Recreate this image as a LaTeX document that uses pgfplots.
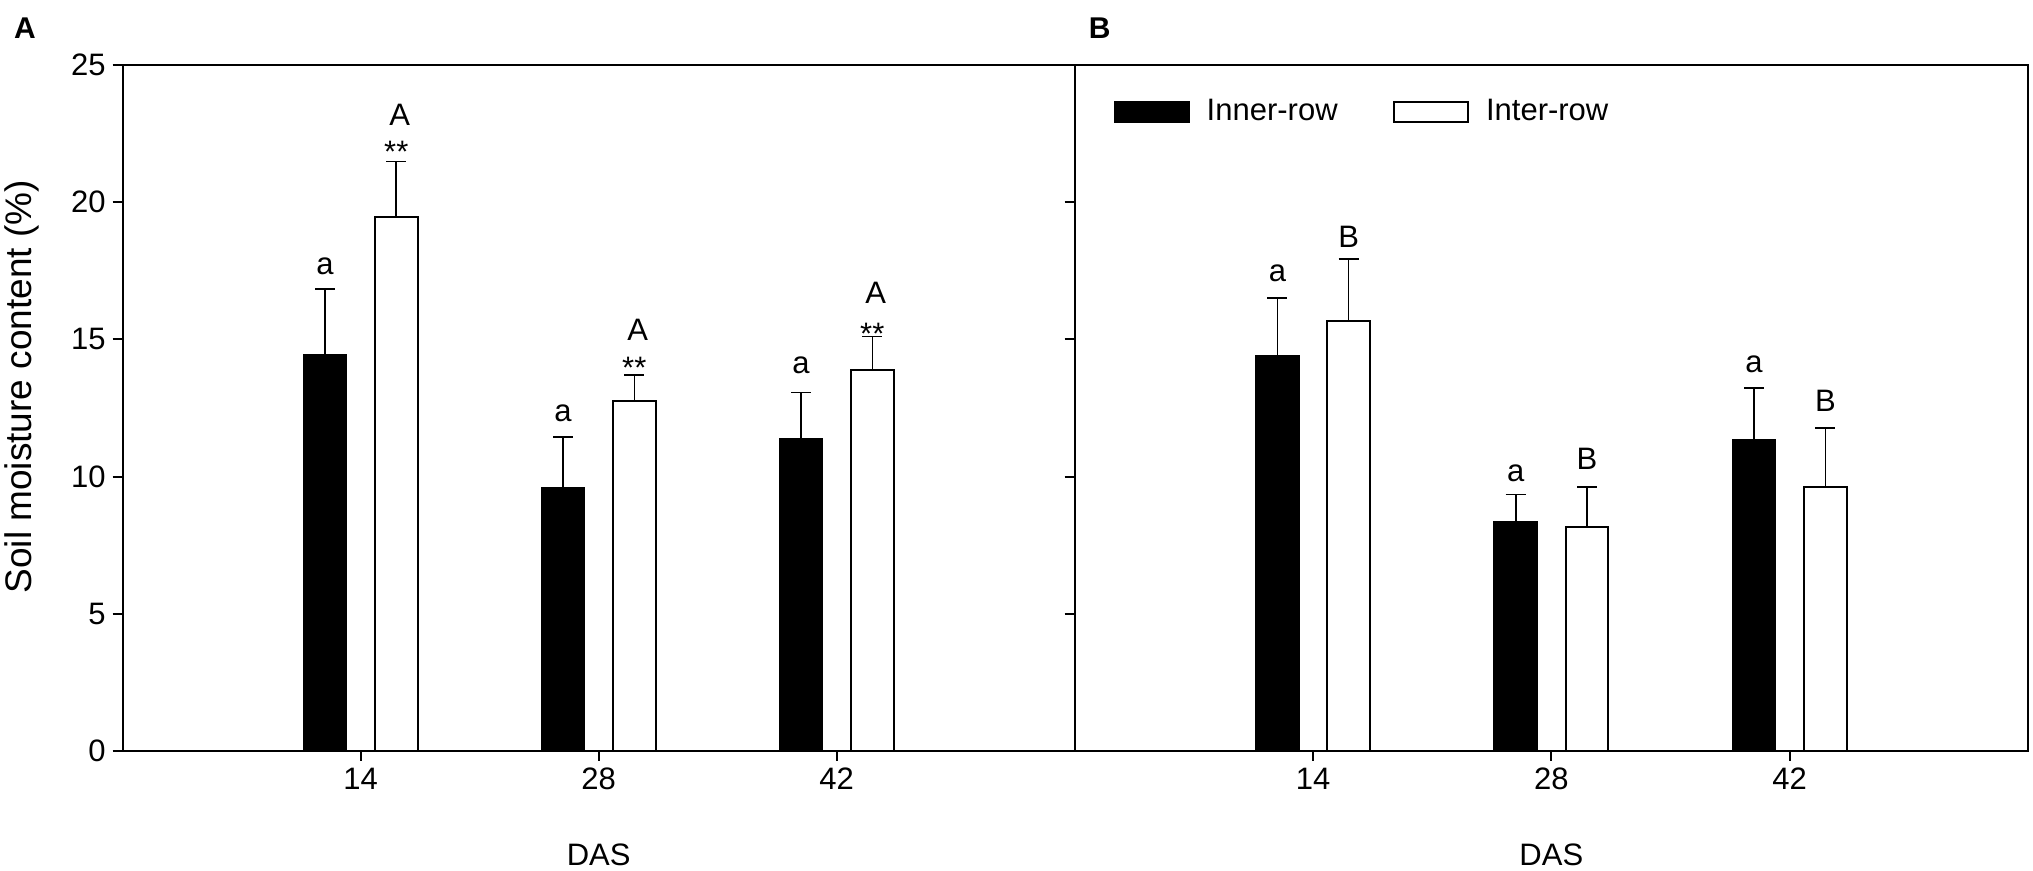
\documentclass[border=0pt]{standalone}
\usepackage{pgfplots}
\usepackage{pgfplotstable}
\pgfplotsset{compat=1.18}
\usepackage{fontspec}
\setmainfont{Liberation Sans}

\pgfplotstableread{
x y e
14 14.42 2.41
28 9.57 1.87
42 11.37 1.69
}\Ain
\pgfplotstableread{
x y e
14 19.46 2.02
28 12.77 0.94
42 13.90 1.20
}\Aout
\pgfplotstableread{
x y e
14 14.41 2.09
28 8.36 0.99
42 11.33 1.89
}\Bin
\pgfplotstableread{
x y e
14 15.67 2.25
28 8.17 1.46
42 9.63 2.15
}\Bout

\tikzset{lett/.style={font=\fontsize{15.5}{18}\selectfont, anchor=center, inner sep=0pt}}

\pgfplotsset{
  panel/.style={
    scale only axis, height=343pt,
    xmin=0, xmax=56, ymin=0, ymax=25,
    xtick={14,28,42}, ytick={0,5,...,25},
    tick align=outside, xtick pos=bottom, ytick pos=left,
    major tick length=5pt,
    axis line style={line width=1pt},
    every tick/.style={black, line width=1pt},
    /pgf/number format/assume math mode=true,
    tick label style={font=\fontsize{15.5}{18}\selectfont},
    ybar, bar width=2.5,
    clip=false,
    xlabel={DAS},
    xlabel style={font=\fontsize{15.5}{18}\selectfont, at={(axis description cs:0.5,-0.1516)}, anchor=center},
  },
  inbar/.style={fill=black, draw=black, line width=1pt, bar shift=-2.094,
    error bars/.cd, y dir=plus, y explicit,
    error bar style={line width=0.8pt, black},
    error mark options={rotate=90, mark size=5pt, line width=0.8pt, black}},
  outbar/.style={fill=white, draw=black, line width=1pt, bar shift=2.094,
    error bars/.cd, y dir=plus, y explicit,
    error bar style={line width=0.8pt, black},
    error mark options={rotate=90, mark size=5pt, line width=0.8pt, black}},
}

\begin{document}
\begin{tikzpicture}
\useasboundingbox (0,0) rectangle (1016.5pt,435.5pt);

\begin{axis}[panel, width=476pt, at={(61.35pt,60pt)}, anchor=south west,
  ylabel={Soil moisture content (\%)},
  ylabel style={font=\fontsize{18.5}{22}\selectfont, at={(axis description cs:-0.1058,0.531)}, anchor=center},
]
\addplot[inbar] table[x=x, y=y, y error=e] {\Ain};
\addplot[outbar] table[x=x, y=y, y error=e] {\Aout};
\node[lett] at (axis cs:11.906,17.65) {a};
\node[lett] at (axis cs:25.906,12.32) {a};
\node[lett] at (axis cs:39.906,14.04) {a};
\node[lett] at (axis cs:16.094,21.84) {**};
\node[lett] at (axis cs:30.094,13.95) {**};
\node[lett] at (axis cs:44.094,15.22) {**};
\node[lett] at (axis cs:16.3,23.18) {A};
\node[lett] at (axis cs:30.3,15.34) {A};
\node[lett] at (axis cs:44.3,16.68) {A};
\node[font=\fontsize{15}{18}\selectfont\bfseries, anchor=center] at (axis description cs:-0.1026,1.054) {A};
\end{axis}

\begin{axis}[panel, width=476.65pt, at={(537.35pt,60pt)}, anchor=south west,
  yticklabel=\empty,
  legend image code/.code={\draw[#1] (0pt,-5pt) rectangle (37pt,5pt);},
  legend style={at={(axis description cs:0.034,0.932)}, anchor=west, draw=none, fill=none,
    font=\fontsize{15.5}{18}\selectfont, legend columns=2, cells={anchor=west},
    /tikz/every odd column/.append style={column sep=6.6pt},
    /tikz/every even column/.append style={column sep=25.6pt}},
]
\addplot[inbar] table[x=x, y=y, y error=e] {\Bin};
\addlegendentry{Inner-row}
\addplot[outbar] table[x=x, y=y, y error=e] {\Bout};
\addlegendentry{Inter-row}
\node[lett] at (axis cs:11.906,17.41) {a};
\node[lett] at (axis cs:25.906,10.13) {a};
\node[lett] at (axis cs:39.906,14.10) {a};
\node[lett] at (axis cs:16.094,18.74) {B};
\node[lett] at (axis cs:30.094,10.64) {B};
\node[lett] at (axis cs:44.094,12.76) {B};
\node[font=\fontsize{15}{18}\selectfont\bfseries, anchor=center] at (axis description cs:0.0261,1.054) {B};
\end{axis}
\end{tikzpicture}
\end{document}
